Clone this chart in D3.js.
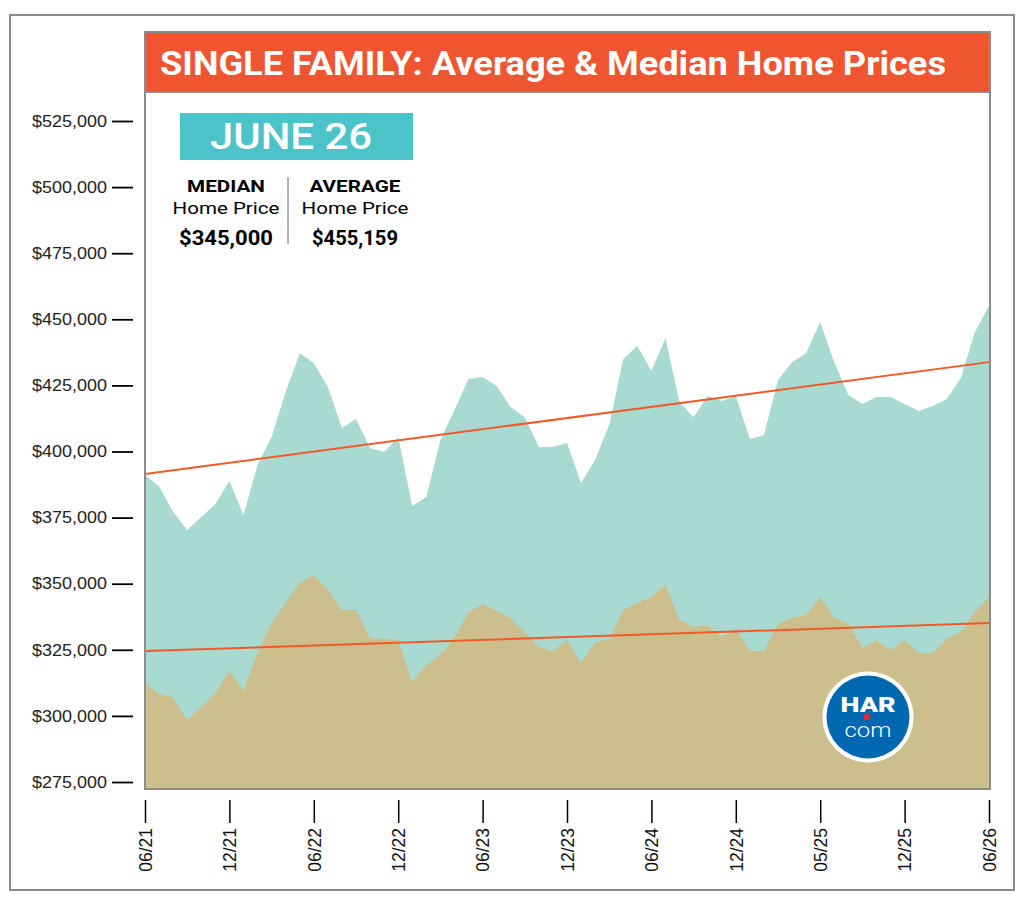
<!DOCTYPE html>
<html>
<head>
<meta charset="utf-8">
<script src="https://cdn.jsdelivr.net/npm/d3@7"></script>
<style>
  body { margin: 0; background: #fff; }
  svg { display: block; }
</style>
</head>
<body>
<svg id="chart"></svg>
<script>
// Single family average & median home prices, 06/21 - 06/26 (monthly)

const tickIndex = [0, 6, 12, 18, 24, 30, 36, 42, 48, 54, 60];
const tickLabels = ["06/21", "12/21", "06/22", "12/22", "06/23", "12/23", "06/24", "12/24", "05/25", "12/25", "06/26"];
const yTicks = [275000, 300000, 325000, 350000, 375000, 400000, 425000, 450000, 475000, 500000, 525000];

const avgPrices = [
  391100, 386900, 377100, 370300, 375200, 380100, 388800, 376000, 394900, 405500,
  422500, 437200, 433500, 424400, 408900, 412300, 401300, 399800, 405500, 379400,
  382800, 404300, 415700, 427400, 428200, 424800, 416800, 413000, 401700, 401700,
  403200, 388100, 396800, 410000, 435000, 439900, 430400, 442900, 418700, 413000,
  421000, 419100, 421000, 404700, 406200, 427000, 433800, 437200, 449000, 433800,
  421400, 418000, 420600, 420600, 418000, 415300, 417200, 419900, 427800, 445200,
  455159
];

const medianPrices = [
  312400, 308300, 307100, 298400, 303400, 308700, 317000, 309400, 324200, 335100,
  342700, 350300, 353300, 347600, 340100, 340100, 329500, 329100, 328700, 312800,
  319200, 323000, 329500, 339300, 342300, 339700, 337000, 331700, 326100, 324500,
  328700, 320000, 327900, 329100, 340100, 342700, 345000, 349500, 336300, 333600,
  334400, 329800, 333200, 324500, 324500, 334800, 337000, 338200, 345000, 337000,
  335100, 325700, 328700, 324900, 328700, 323800, 323800, 329100, 331700, 339300,
  345000
];

// trend lines: value at first and last month
const avgTrend = [391500, 433800];
const medianTrend = [324500, 335100];

const latestLabel = "JUNE 26";
const latestMedian = "$345,000";
const latestAverage = "$455,159";

const width = 1024, height = 905;
const plot = { left: 145, right: 990, top: 32, bottom: 789 };

const svg = d3.select("#chart")
  .attr("width", width)
  .attr("height", height);

// outer frame
svg.append("rect")
  .attr("x", 10).attr("y", 15)
  .attr("width", 1004).attr("height", 875)
  .attr("fill", "#fff")
  .attr("stroke", "#8c8c8c")
  .attr("stroke-width", 2);

const xScale = d3.scaleLinear()
  .domain([0, avgPrices.length - 1])
  .range([plot.left, 989]);

const yScale = d3.scaleLinear()
  .domain([275000, 525000])
  .range([782, 121]);

// clip to the plot box
svg.append("clipPath").attr("id", "plot-clip")
  .append("rect")
  .attr("x", plot.left).attr("y", plot.top)
  .attr("width", plot.right - plot.left).attr("height", plot.bottom - plot.top);

const g = svg.append("g").attr("clip-path", "url(#plot-clip)");

const area = d3.area()
  .x((d, i) => xScale(i))
  .y0(plot.bottom)
  .y1(d => yScale(d));

g.append("path")
  .datum(avgPrices)
  .attr("fill", "#a8dad1")
  .attr("d", area);

g.append("path")
  .datum(medianPrices)
  .attr("fill", "#cdbf8d")
  .attr("d", area);

// trend lines
const trendLine = d3.line()
  .x(d => xScale(d[0]))
  .y(d => yScale(d[1]));

[avgTrend, medianTrend].forEach(t => {
  g.append("path")
    .datum([[0, t[0]], [avgPrices.length - 1, t[1]]])
    .attr("fill", "none")
    .attr("stroke", "#f15a29")
    .attr("stroke-width", 2)
    .attr("d", trendLine);
});

// plot border
svg.append("rect")
  .attr("x", plot.left).attr("y", plot.top)
  .attr("width", plot.right - plot.left).attr("height", plot.bottom - plot.top)
  .attr("fill", "none")
  .attr("stroke", "#8c8c8c")
  .attr("stroke-width", 2);

// title bar
svg.append("rect")
  .attr("x", plot.left).attr("y", plot.top)
  .attr("width", plot.right - plot.left).attr("height", 60)
  .attr("fill", "#f05532")
  .attr("stroke", "#8c8c8c")
  .attr("stroke-width", 2);

svg.append("text")
  .attr("x", 160).attr("y", 75)
  .attr("textLength", 786)
  .attr("lengthAdjust", "spacingAndGlyphs")
  .style("font-family", "Roboto, sans-serif")
  .style("font-weight", 700)
  .style("font-size", "33px")
  .attr("fill", "#fff")
  .text("SINGLE FAMILY: Average & Median Home Prices");

// latest month box
svg.append("rect")
  .attr("x", 180).attr("y", 113)
  .attr("width", 233).attr("height", 47)
  .attr("fill", "#4cc3c9");

svg.append("text")
  .attr("x", 291).attr("y", 149)
  .attr("text-anchor", "middle")
  .attr("textLength", 162)
  .attr("lengthAdjust", "spacingAndGlyphs")
  .style("font-family", "Roboto, sans-serif")
  .style("font-weight", 500)
  .style("font-size", "37px")
  .attr("fill", "#fff")
  .text(latestLabel);

const info = [
  { cx: 226, head: "MEDIAN", headW: 78, value: latestMedian, valueW: 94 },
  { cx: 355, head: "AVERAGE", headW: 91, value: latestAverage, valueW: 86 }
];

info.forEach(d => {
  svg.append("text")
    .attr("x", d.cx).attr("y", 192)
    .attr("text-anchor", "middle")
    .attr("textLength", d.headW).attr("lengthAdjust", "spacingAndGlyphs")
    .style("font-family", "Roboto, sans-serif")
    .style("font-weight", 700).style("font-size", "17px")
    .text(d.head);
  svg.append("text")
    .attr("x", d.cx).attr("y", 214)
    .attr("text-anchor", "middle")
    .attr("textLength", 107).attr("lengthAdjust", "spacingAndGlyphs")
    .style("font-family", "Roboto, sans-serif")
    .style("font-size", "17px")
    .text("Home Price");
  svg.append("text")
    .attr("x", d.cx).attr("y", 245)
    .attr("text-anchor", "middle")
    .attr("textLength", d.valueW).attr("lengthAdjust", "spacingAndGlyphs")
    .style("font-family", "Roboto, sans-serif")
    .style("font-weight", 700).style("font-size", "20px")
    .text(d.value);
});

svg.append("line")
  .attr("x1", 288).attr("x2", 288)
  .attr("y1", 177).attr("y2", 244)
  .attr("stroke", "#666").attr("stroke-width", 1);

// y axis (detached dashes)
const yAxis = svg.append("g")
  .attr("transform", "translate(133,0)")
  .call(d3.axisLeft(yScale).tickValues(yTicks).tickSize(21).tickPadding(5).tickFormat(d3.format("$,")));

yAxis.select(".domain").remove();
yAxis.selectAll(".tick line").attr("stroke", "#000").attr("stroke-width", 1.8);
yAxis.selectAll(".tick text")
  .attr("fill", "#222")
  .attr("textLength", 75)
  .attr("lengthAdjust", "spacingAndGlyphs")
  .style("font-family", "'Liberation Sans', Arial, sans-serif")
  .style("font-size", "16.5px");

// x axis
const xAxis = svg.append("g")
  .attr("transform", "translate(0,800)")
  .call(d3.axisBottom(xScale).tickValues(tickIndex).tickSize(23)
    .tickFormat((d, i) => tickLabels[i]));

xAxis.select(".domain").remove();
xAxis.selectAll(".tick line").attr("stroke", "#000").attr("stroke-width", 1.5);
xAxis.selectAll(".tick text")
  .attr("transform", "rotate(-90)")
  .attr("text-anchor", "end")
  .attr("x", -28)
  .attr("y", 0)
  .attr("dy", "0.36em")
  .attr("fill", "#111")
  .style("font-family", "'Liberation Sans', Arial, sans-serif")
  .style("font-size", "17.5px");

// HAR.com badge
const logo = svg.append("g").attr("transform", "translate(868,717)");
logo.append("circle").attr("r", 45.5).attr("fill", "#fff");
logo.append("circle").attr("r", 41.5).attr("fill", "#0067b1");
logo.append("text")
  .attr("y", -5).attr("text-anchor", "middle")
  .attr("textLength", 55).attr("lengthAdjust", "spacingAndGlyphs")
  .style("font-family", "Roboto, sans-serif")
  .style("font-weight", 900).style("font-size", "20px")
  .attr("fill", "#fff")
  .text("HAR");
logo.append("text")
  .attr("y", 20).attr("text-anchor", "middle")
  .attr("textLength", 47).attr("lengthAdjust", "spacingAndGlyphs")
  .style("font-family", "Roboto, sans-serif")
  .style("font-weight", 300).style("font-size", "21px")
  .attr("fill", "#fff")
  .text("com");
logo.append("circle").attr("cx", -1).attr("cy", 0).attr("r", 3.2).attr("fill", "#e8262c");
</script>
</body>
</html>
